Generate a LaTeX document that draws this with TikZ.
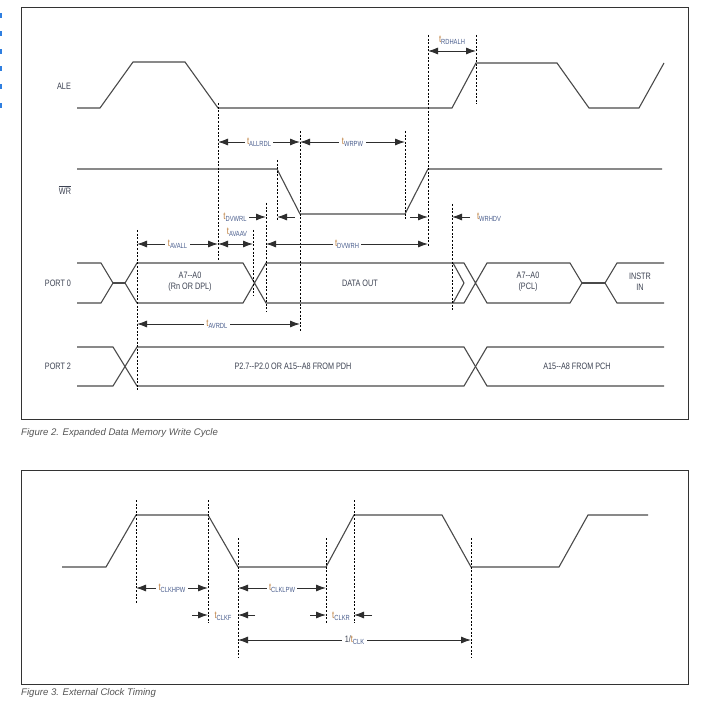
\documentclass[tikz,border=0pt]{standalone}
\usepackage{fontspec}
\usetikzlibrary{arrows.meta}
\newfontfamily\cond{Liberation Sans}[FakeStretch=0.78]
\newfontfamily\capf{Liberation Sans}
\definecolor{sigcol}{HTML}{4A4A4A}
\definecolor{dimcol}{HTML}{2E2E2E}
\definecolor{txtcol}{HTML}{3C4252}
\definecolor{tcol}{HTML}{BE7E3C}
\definecolor{scol}{HTML}{4A5E8E}
\definecolor{capcol}{HTML}{555555}
\definecolor{bluemark}{HTML}{2F7FE0}
\newcommand\tsig[1]{{\color{tcol}\fontsize{10}{11}\selectfont t}{\color{scol}\fontsize{7.4}{8}\selectfont\raisebox{-0.45ex}{#1}}}
\tikzset{
  sigline/.style={draw=sigcol, line width=1.1pt, line join=miter},
  tickline/.style={draw=black, line width=0.7pt, dash pattern=on 2pt off 1.6pt},
  dimarrow/.style={draw=dimcol, line width=0.9pt, {Latex[length=10pt,width=7pt]}-{Latex[length=10pt,width=7pt]}},
  dimone/.style={draw=dimcol, line width=0.9pt, -{Latex[length=10pt,width=7pt]}},
  lbl/.style={font=\cond\fontsize{9.3}{10.8}\selectfont, text=txtcol, inner sep=1pt, align=center},
  tlab/.style={lbl, fill=white, inner sep=2.5pt},
  framebox/.style={draw=black!80, line width=0.9pt},
  capstyle/.style={font=\capf\itshape\fontsize{9.6}{11}\selectfont, text=capcol, inner sep=0pt, anchor=west}
}
\begin{document}
\begin{tikzpicture}[x=1pt,y=-1pt]
\useasboundingbox[fill=white] (0,0) rectangle (723,719);

% blue marks at left edge
\foreach \yy in {13,31,49,66,84,103}{\fill[bluemark] (0,\yy) rectangle (2.2,\yy+5.5);}

% frames and captions
\draw[framebox] (21,7) rectangle (688,419);
\draw[framebox] (21,470) rectangle (688,684);
\node[capstyle] (cap2) at (21,433) {Figure 2. Expanded Data Memory Write Cycle};
\node[capstyle] (cap3) at (21,693) {Figure 3. External Clock Timing};

% ---------- Figure 2 ----------
\node[lbl] (ale) at (64,86) {ALE};
\node[lbl] (wr) at (65,190) {$\overline{\hbox{\cond\fontsize{9.3}{10.8}\selectfont WR}}$};
\node[lbl] (p0) at (58,283) {PORT 0};
\node[lbl] (p2) at (58,366) {PORT 2};

% ALE
\draw[sigline] (77,108) -- (100,108) -- (133,62) -- (185,62) -- (218,108) -- (452,108) -- (476,63) -- (557,63) -- (589,108) -- (639,108) -- (664,63);
% WR
\draw[sigline] (77,169) -- (277,169) -- (300,214) -- (405,214) -- (428,169) -- (662,169);

% PORT 0
\draw[sigline] (77,263) -- (101,263) -- (113,283) -- (101,303) -- (77,303);
\draw[sigline] (113,283) -- (125,283);
\draw[sigline] (125,283) -- (137,263) -- (243,263) -- (266,303) -- (464,303) -- (487,263) -- (570,263) -- (582,283) -- (570,303) -- (487,303) -- (464,263) -- (266,263) -- (243,303) -- (137,303) -- cycle;
\draw[sigline] (453,263) -- (464,283) -- (453,303);
\draw[sigline] (582,283) -- (605,283);
\draw[sigline] (664,263) -- (617,263) -- (605,283) -- (617,303) -- (664,303);
\node[lbl] (a70) at (190,282) {A7--A0\\(Rn OR DPL)};
\node[lbl] (dout) at (360,283) {DATA OUT};
\node[lbl] (pcl) at (528,282) {A7--A0\\(PCL)};
\node[lbl] (instr) at (640,282) {INSTR\\IN};

% PORT 2
\draw[sigline] (77,347) -- (113,347) -- (137,386) -- (464,386) -- (487,347) -- (664,347);
\draw[sigline] (77,386) -- (113,386) -- (137,347) -- (464,347) -- (487,386) -- (664,386);
\node[lbl] (p2a) at (293,366) {P2.7--P2.0 OR A15--A8 FROM PDH};
\node[lbl] (p2b) at (577,366) {A15--A8 FROM PCH};

% dashed verticals
\draw[tickline] (137,230) -- (137,390);
\draw[tickline] (218,103) -- (218,260);
\draw[tickline] (253,230) -- (253,295);
\draw[tickline] (266,203) -- (266,312);
\draw[tickline] (277,160) -- (277,221);
\draw[tickline] (300,131) -- (300,331);
\draw[tickline] (405,131) -- (405,219);
\draw[tickline] (428,35) -- (428,246);
\draw[tickline] (476,35) -- (476,104);
\draw[tickline] (452,204) -- (452,310);

% timing arrows
\coordinate (rdA) at (428,51); \coordinate (rdB) at (476,51);
\draw[dimarrow] (rdA) -- (rdB);
\node[lbl] (tRDHALH) at (452,40) {\tsig{RDHALH}};

\coordinate (allA) at (218,142); \coordinate (allB) at (300,142);
\draw[dimarrow] (allA) -- node[tlab] (tALLRDL) {\tsig{ALLRDL}} (allB);
\coordinate (wrpA) at (300,142); \coordinate (wrpB) at (405,142);
\draw[dimarrow] (wrpA) -- node[tlab] (tWRPW) {\tsig{WRPW}} (wrpB);

\node[lbl] (tDVWRL) at (235,217) {\tsig{DVWRL}};
\coordinate (dvlA) at (249,217); \coordinate (dvlB) at (266,217);
\draw[dimone] (dvlA) -- (dvlB);
\coordinate (dvlC) at (295,217); \coordinate (dvlD) at (277,217);
\draw[dimone] (dvlC) -- (dvlD);

\coordinate (hdA) at (410,217); \coordinate (hdB) at (428,217);
\draw[dimone] (hdA) -- (hdB);
\coordinate (hdC) at (470,217); \coordinate (hdD) at (452,217);
\draw[dimone] (hdC) -- (hdD);
\node[lbl] (tWRHDV) at (489,217) {\tsig{WRHDV}};

\coordinate (avlA) at (137,244); \coordinate (avlB) at (218,244);
\draw[dimarrow] (avlA) -- node[tlab] (tAVALL) {\tsig{AVALL}} (avlB);
\coordinate (aaA) at (218,244); \coordinate (aaB) at (253,244);
\draw[dimarrow] (aaA) -- (aaB);
\node[lbl] (tAVAAV) at (237,232) {\tsig{AVAAV}};
\coordinate (dhA) at (266,244); \coordinate (dhB) at (428,244);
\draw[dimarrow] (dhA) -- node[tlab] (tDVWRH) {\tsig{DVWRH}} (dhB);

\coordinate (avrA) at (137,324); \coordinate (avrB) at (300,324);
\draw[dimarrow] (avrA) -- node[tlab, pos=0.49] (tAVRDL) {\tsig{AVRDL}} (avrB);

% ---------- Figure 3 ----------
\draw[sigline] (62,567) -- (106,567) -- (136,515) -- (208,515) -- (238,567) -- (326,567) -- (354,515) -- (442,515) -- (471,567) -- (559,567) -- (588,515) -- (648,515);

\draw[tickline] (136,500) -- (136,603);
\draw[tickline] (208,500) -- (208,623);
\draw[tickline] (238,538) -- (238,657);
\draw[tickline] (326,538) -- (326,623);
\draw[tickline] (354,500) -- (354,623);
\draw[tickline] (471,538) -- (471,657);

\coordinate (hpA) at (136,588); \coordinate (hpB) at (208,588);
\draw[dimarrow] (hpA) -- node[tlab] (tCLKHPW) {\tsig{CLKHPW}} (hpB);
\coordinate (lpA) at (238,588); \coordinate (lpB) at (326,588);
\draw[dimarrow] (lpA) -- node[tlab] (tCLKLPW) {\tsig{CLKLPW}} (lpB);

\coordinate (cfA) at (192,615); \coordinate (cfB) at (208,615);
\draw[dimone] (cfA) -- (cfB);
\coordinate (cfC) at (255,615); \coordinate (cfD) at (238,615);
\draw[dimone] (cfC) -- (cfD);
\node[lbl] (tCLKF) at (223,616) {\tsig{CLKF}};

\coordinate (crA) at (310,615); \coordinate (crB) at (326,615);
\draw[dimone] (crA) -- (crB);
\coordinate (crC) at (372,615); \coordinate (crD) at (354,615);
\draw[dimone] (crC) -- (crD);
\node[lbl] (tCLKR) at (341,616) {\tsig{CLKR}};

\coordinate (ckA) at (238,640); \coordinate (ckB) at (471,640);
\draw[dimarrow] (ckA) -- node[tlab, pos=0.5] (tCLK) {1/\tsig{CLK}} (ckB);
\end{tikzpicture}
\end{document}
